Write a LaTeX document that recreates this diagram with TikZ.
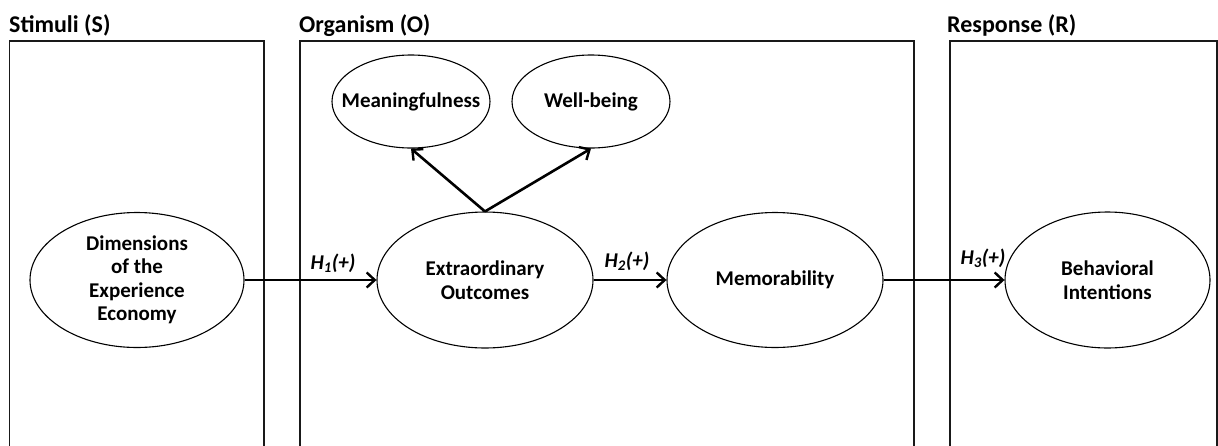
\documentclass[tikz,border=0pt]{standalone}
\usepackage{fontspec}
\setmainfont{Carlito}
\usetikzlibrary{arrows.meta,shapes.geometric}
\begin{document}
\begin{tikzpicture}[x=1pt,y=-1pt,
  panel/.style={line width=1.5pt, draw=black!90},
  oval/.style={ellipse, draw, line width=1.1pt, align=center, inner sep=0pt,
    font=\bfseries\fontsize{21}{23.5}\selectfont},
  title/.style={anchor=base west, inner sep=0pt, font=\bfseries\fontsize{24}{28}\selectfont},
  hlab/.style={inner sep=0pt, font=\bfseries\itshape\fontsize{21}{24}\selectfont},
  arr/.style={line width=2.6pt, -{Straight Barb[length=8pt,width=15pt,line width=2.4pt]}}
]
\useasboundingbox (0,0) rectangle (1218,445);
% panels (open at the bottom)
\draw[panel] (9.5,450) -- (9.5,41) -- (264,41) -- (264,450);
\draw[panel] (300,450) -- (300,41) -- (914,41) -- (914,450);
\draw[panel] (950,450) -- (950,41) -- (1217,41) -- (1217,450);
% titles
\node[title] (ts) at (9,32) {Stimuli (S)};
\node[title] (to) at (299,32) {Organism (O)};
\node[title] (tr) at (947,32) {Response (R)};
% ovals
\node[oval, minimum width=214pt, minimum height=135pt] (dim) at (137,280) {Dimensions\\of the\\Experience\\Economy};
\node[oval, minimum width=216pt, minimum height=136pt] (ext) at (485,280) {Extraordinary\\Outcomes};
\node[oval, minimum width=216pt, minimum height=135pt] (mem) at (775,280) {Memorability};
\node[oval, minimum width=205pt, minimum height=136pt] (beh) at (1107.5,280) {Behavioral\\Intentions};
\node[oval, inner xsep=-25pt, minimum width=158pt, minimum height=93pt] (mean) at (411,101.5) {Meaningfulness};
\node[oval, inner xsep=-25pt, minimum width=158pt, minimum height=93pt] (well) at (591,101.5) {Well-being};
% connectors
\draw[arr] (dim) -- (ext);
\draw[arr] (ext) -- (mem);
\draw[arr] (mem) -- (beh);
\draw[arr] (ext.north) -- (mean.south);
\draw[arr] (ext.north) -- (well.south);
% labels
\node[hlab] (h1) at (333,263) {H\textsubscript{1}(+)};
\node[hlab] (h2) at (627,261) {H\textsubscript{2}(+)};
\node[hlab] (h3) at (983,258) {H\textsubscript{3}(+)};
\end{tikzpicture}
\end{document}
